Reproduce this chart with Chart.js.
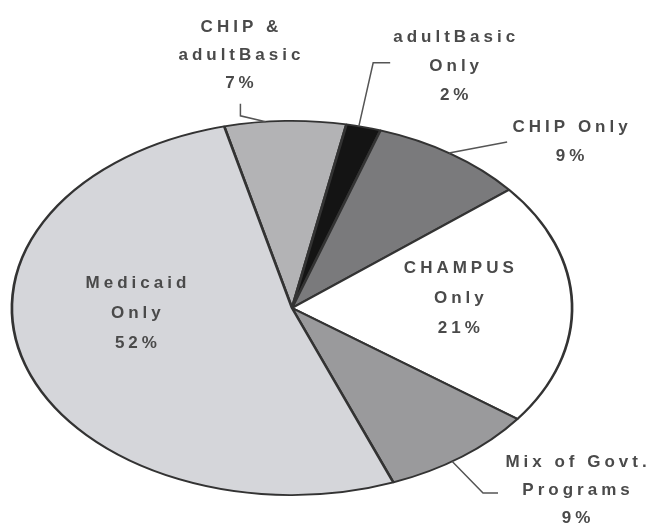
<!DOCTYPE html>
<html>
<head>
<meta charset="utf-8">
<style>
  html, body { margin: 0; padding: 0; background: #fff; }
  #wrap { width: 648px; height: 529px; }
</style>
</head>
<body>
<div id="wrap"><canvas id="pie" width="648" height="529"></canvas></div>
<script src="https://cdn.jsdelivr.net/npm/chart.js@4.4.1/dist/chart.umd.min.js"></script>
<script>
// slices, clockwise from the top
const categories = ['CHIP & adultBasic', 'adultBasic Only', 'CHIP Only', 'CHAMPUS Only', 'Mix of Govt. Programs', 'Medicaid Only'];
const values = [7, 2, 9, 21, 9, 52];
const labelLines = [['CHIP &', 'adultBasic'], ['adultBasic', 'Only'], ['CHIP Only'], ['CHAMPUS', 'Only'], ['Mix of Govt.', 'Programs'], ['Medicaid', 'Only']];
const sliceColors = ['#b3b3b5', '#141414', '#7a7a7c', '#ffffff', '#9a9a9c', '#d5d6da'];

const stretchX = 1.497; // pie is drawn as an ellipse

// where each label sits: angle shift from slice middle (deg), radius factor, line gap, leader line
const labelPlace = [
  { shift: -6.5, k: 1.366, gap: 28, leader: [[1, 49], [1, 61]], edge: -4 },
  { shift: 9.3, k: 1.418, gap: 29, leader: [[-64, -3], [-81, -3]], edge: -1 },
  { shift: 13.6, k: 1.332, gap: 29, leader: [[-63, 0]], edge: -0.5 },
  { shift: -3.7, k: 0.598, gap: 30, leader: null },
  { shift: -8.8, k: 1.405, gap: 28, leader: [[-78, 3], [-93, 3]], edge: 2.5 },
  { shift: 14.8, k: 0.558, gap: 30, leader: null }
];

const ellipsePlugin = {
  id: 'ellipse',
  beforeDatasetsDraw(chart) {
    const arc = chart.getDatasetMeta(0).data[0];
    const ctx = chart.ctx;
    ctx.save();
    ctx.translate(arc.x, arc.y);
    ctx.scale(stretchX, 1);
    ctx.translate(-arc.x, -arc.y);
  },
  afterDatasetsDraw(chart) {
    chart.ctx.restore();
  }
};

const labelPlugin = {
  id: 'sliceLabels',
  afterDraw(chart) {
    const ctx = chart.ctx;
    const arcs = chart.getDatasetMeta(0).data;
    const pt = (arc, deg, k) => {
      const a = deg * Math.PI / 180;
      return [arc.x + k * arc.outerRadius * stretchX * Math.sin(a), arc.y - k * arc.outerRadius * Math.cos(a)];
    };
    ctx.save();
    arcs.forEach((arc, i) => {
      const p = labelPlace[i];
      const mid = ((arc.startAngle + arc.endAngle) / 2) * 180 / Math.PI + 90;
      const [lx, ly] = pt(arc, mid + p.shift, p.k);
      if (p.leader) {
        const [ex, ey] = pt(arc, mid + p.edge, 1);
        ctx.beginPath();
        ctx.strokeStyle = '#555';
        ctx.lineWidth = 1.5;
        p.leader.forEach((o, j) => {
          if (j === 0) ctx.moveTo(lx + o[0], ly + o[1]);
          else ctx.lineTo(lx + o[0], ly + o[1]);
        });
        ctx.lineTo(ex, ey);
        ctx.stroke();
      }
      const lines = labelLines[i].concat([values[i] + '%']);
      ctx.font = 'bold 17px "Liberation Sans", Arial, sans-serif';
      ctx.letterSpacing = '4px';
      ctx.fillStyle = '#4a4a4a';
      ctx.textAlign = 'center';
      ctx.textBaseline = 'middle';
      const top = ly - (lines.length - 1) * p.gap / 2;
      lines.forEach((t, j) => ctx.fillText(t, lx + 2, top + j * p.gap));
    });
    ctx.restore();
  }
};

new Chart(document.getElementById('pie'), {
  type: 'pie',
  data: {
    labels: categories,
    datasets: [{
      data: values,
      backgroundColor: sliceColors,
      borderColor: '#333333',
      borderWidth: 1.8,
      hoverOffset: 0,
      clip: false
    }]
  },
  options: {
    responsive: false,
    devicePixelRatio: 1,
    animation: false,
    rotation: -14,
    layout: { padding: { left: 104, right: 168, top: 120, bottom: 33 } },
    plugins: { legend: { display: false }, tooltip: { enabled: false } }
  },
  plugins: [ellipsePlugin, labelPlugin]
});
</script>
</body>
</html>
